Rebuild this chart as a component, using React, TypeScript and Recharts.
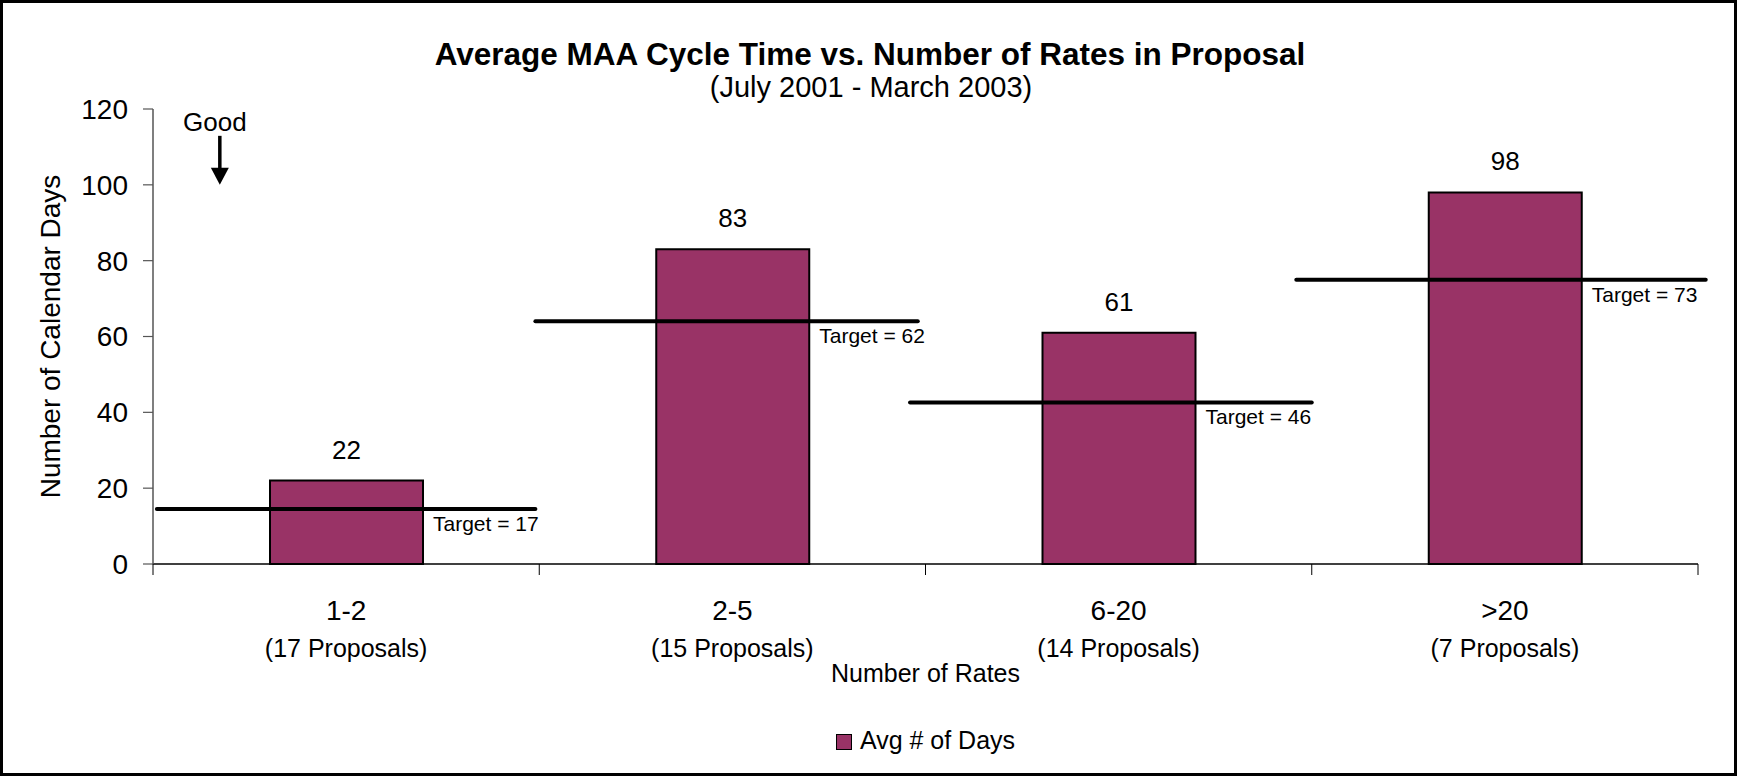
import React from 'react';
import {
  ComposedChart,
  Bar,
  XAxis,
  YAxis,
  Legend,
  LabelList,
  ReferenceLine,
  ReferenceDot,
} from 'recharts';

// ---- data ----
const categories = ['1-2', '2-5', '6-20', '>20'];
const proposalLabels = ['(17 Proposals)', '(15 Proposals)', '(14 Proposals)', '(7 Proposals)'];
const avgDays = [22, 83, 61, 98];
const targets = [17, 62, 46, 73];
// where the hand-drawn target lines sit on the chart
const targetLineLevels = [14.5, 64, 42.6, 75];
const targetLineStart = [0.01, 0.99, 1.96, 2.96];
const targetLineEnd = [0.99, 1.98, 3.0, 4.02];
const yTicks = [0, 20, 40, 60, 80, 100, 120];
const xBoundaryTicks = [0, 0.5, 1, 1.5, 2, 2.5, 3, 3.5, 4];
const goodMarker = { x: 0.173, y: 100 };

const chartData = categories.map((c, i) => ({ name: c, pos: i + 0.5, value: avgDays[i] }));

const FONT = '"Liberation Sans", Arial, Helvetica, sans-serif';
const BAR_COLOR = '#993366';

const XTick = (props: any) => {
  const { x, y, payload } = props;
  const v = payload.value as number;
  if (Number.isInteger(v)) {
    return <line x1={x} x2={x} y1={y} y2={y + 11} stroke="#000" strokeWidth={1} />;
  }
  const i = Math.floor(v);
  return (
    <g>
      <text x={x} y={y + 56} textAnchor="middle" fontSize={28} fill="#000">
        {categories[i]}
      </text>
      <text x={x} y={y + 93} textAnchor="middle" fontSize={25} fill="#000">
        {proposalLabels[i]}
      </text>
    </g>
  );
};

const TargetLabel = (props: any) => {
  const vb = props.viewBox ?? props;
  const x = vb.x ?? props.x;
  const y = vb.y ?? props.y;
  const width = vb.width ?? props.width;
  const height = vb.height ?? props.height;
  let i = props.index;
  if (i === undefined || i === null) i = avgDays.indexOf(Number(props.value));
  if (i < 0 || x === undefined) return null;
  const k = height / avgDays[i];
  const lineY = y + height - targetLineLevels[i] * k;
  return (
    <text x={x + width + 10} y={lineY + 22} fontSize={21} fill="#000">
      {`Target = ${targets[i]}`}
    </text>
  );
};

const GoodShape = (props: any) => {
  const { cx, cy } = props;
  if (cx === undefined || cy === undefined) return null;
  return (
    <g>
      <text x={cx - 5} y={cy - 54} textAnchor="middle" fontSize={26} fill="#000">
        Good
      </text>
      <line x1={cx} x2={cx} y1={cy - 49} y2={cy - 14} stroke="#000" strokeWidth={3.5} />
      <polygon points={`${cx - 9},${cy - 17} ${cx + 9},${cy - 17} ${cx},${cy}`} fill="#000" />
    </g>
  );
};

const LegendContent = () => (
  <div
    style={{
      height: 40,
      display: 'flex',
      alignItems: 'center',
      justifyContent: 'center',
      fontFamily: FONT,
      fontSize: 25,
      color: '#000',
    }}
  >
    <span
      style={{
        display: 'inline-block',
        width: 14,
        height: 14,
        background: BAR_COLOR,
        border: '1.5px solid #000',
        marginRight: 8,
        marginTop: 4,
      }}
    />
    <span>Avg # of Days</span>
  </div>
);

export default function App() {
  const W = 1739;
  const H = 776;
  return (
    <div
      style={{
        position: 'absolute',
        left: 0,
        top: 0,
        width: W,
        height: H,
        background: '#fff',
        fontFamily: FONT,
      }}
    >
      <ComposedChart
        width={W}
        height={H}
        data={chartData}
        margin={{ top: 109, right: 41, bottom: 16, left: 10 }}
        barCategoryGap={0}
      >
        <XAxis xAxisId="cat" dataKey="name" type="category" hide height={0} />
        <XAxis
          xAxisId="num"
          dataKey="pos"
          type="number"
          domain={[0, 4]}
          allowDataOverflow
          ticks={xBoundaryTicks}
          interval={0}
          tick={<XTick />}
          tickLine={false}
          tickSize={0}
          tickMargin={0}
          axisLine={{ stroke: '#000', strokeWidth: 1.5 }}
          height={156}
          label={{ value: 'Number of Rates', position: 'insideTop', offset: 100, fontSize: 25, fill: '#000' }}
        />
        <YAxis
          domain={[0, 120]}
          ticks={yTicks}
          interval={0}
          width={143}
          tickSize={10}
          tickMargin={15}
          tick={{ fill: '#000', fontSize: 28 }}
          tickLine={{ stroke: '#555', strokeWidth: 1.2 }}
          axisLine={{ stroke: '#555', strokeWidth: 1.5 }}
          label={{
            value: 'Number of Calendar Days',
            angle: -90,
            position: 'insideLeft',
            offset: 40,
            fontSize: 28,
            fill: '#000',
            style: { textAnchor: 'middle' },
          }}
        />
        <Legend
          verticalAlign="bottom"
          content={<LegendContent />}
          wrapperStyle={{ left: 153, width: 1545 }}
        />
        <Bar
          xAxisId="cat"
          dataKey="value"
          name="Avg # of Days"
          fill={BAR_COLOR}
          stroke="#000"
          strokeWidth={2}
          barSize={153}
          isAnimationActive={false}
        >
          <LabelList dataKey="value" position="top" offset={22} fontSize={26} fill="#000" />
          <LabelList dataKey="value" content={<TargetLabel />} />
        </Bar>
        {targetLineLevels.map((lvl, i) => (
          <ReferenceLine
            key={i}
            xAxisId="num"
            ifOverflow="visible"
            segment={[
              { x: targetLineStart[i], y: lvl },
              { x: targetLineEnd[i], y: lvl },
            ]}
            stroke="#000"
            strokeWidth={4}
            strokeLinecap="round"
          />
        ))}
        <ReferenceDot
          xAxisId="num"
          x={goodMarker.x}
          y={goodMarker.y}
          r={0}
          ifOverflow="visible"
          shape={<GoodShape />}
        />
      </ComposedChart>
      <svg
        width={W}
        height={H}
        style={{ position: 'absolute', left: 0, top: 0, pointerEvents: 'none' }}
      >
        <text x={870} y={65} textAnchor="middle" fontSize={31.5} fontWeight="bold" fill="#000" fontFamily={FONT}>
          Average MAA Cycle Time vs. Number of Rates in Proposal
        </text>
        <text x={871} y={97} textAnchor="middle" fontSize={29} fill="#000" fontFamily={FONT}>
          (July 2001 - March 2003)
        </text>
        <rect x={1.5} y={1.5} width={W - 5} height={H - 3} fill="none" stroke="#000" strokeWidth={3} />
      </svg>
    </div>
  );
}
